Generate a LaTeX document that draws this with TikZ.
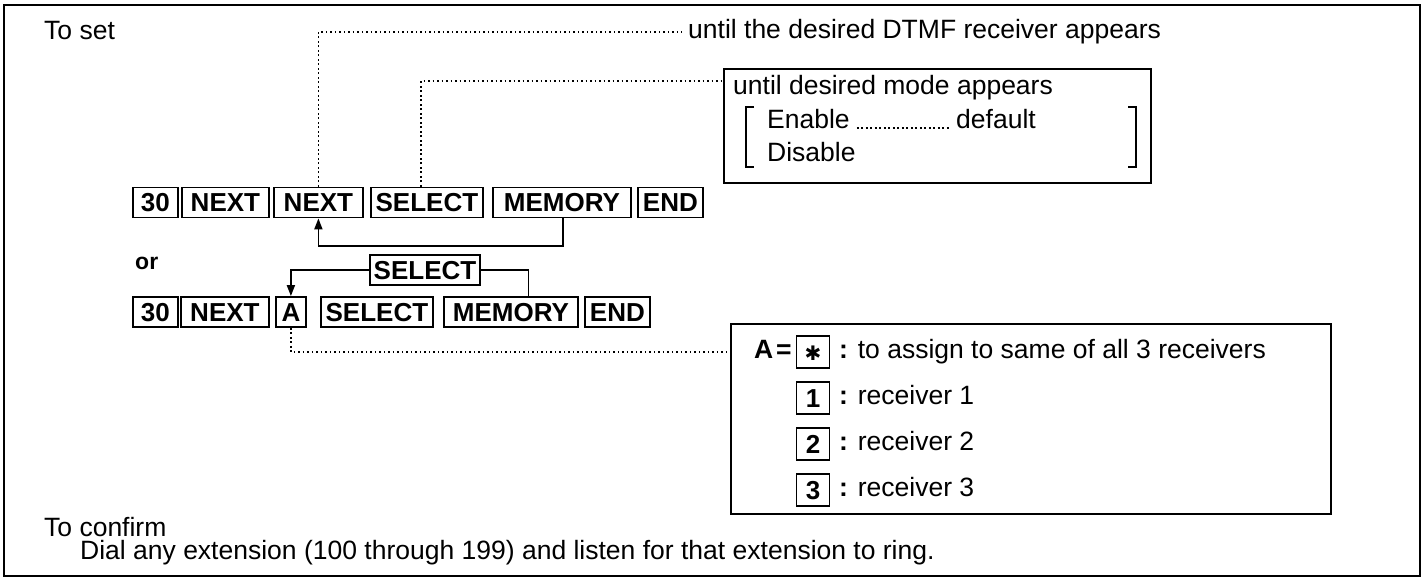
\documentclass[tikz,border=0pt]{standalone}
\usepackage{fontspec}
\setmainfont{Liberation Sans}
\newfontfamily\djvfont{DejaVu Sans}
\usetikzlibrary{calc,arrows.meta}
\begin{document}
\begin{tikzpicture}[x=1pt,y=-1pt,
  keybox/.style={draw,line width=1.8pt,font=\fontsize{26}{26}\selectfont\bfseries,minimum height=30pt,text height=18.5pt,text depth=0pt,inner xsep=2pt,inner ysep=0pt,anchor=west},
  txt/.style={font=\fontsize{26.5}{26.5}\selectfont,inner sep=0pt,anchor=west,text height=19pt,text depth=5.5pt},
  dots/.style={line width=1.6pt,dash pattern=on 1.6pt off 2.9pt},
  conn/.style={line width=1.8pt},
  tip/.style={-{Triangle[length=11pt,width=8pt]}},
  frame/.style={draw,line width=1.6pt,inner sep=0pt,anchor=north west}]
\useasboundingbox (0,0) rectangle (1425,580);
\draw[line width=2pt] (4,5) rectangle (1420,576);

% texts
\node[txt] (toset) at (44,33) {To set};
\node[txt] (dtmf) at (688,32) {until the desired DTMF receiver appears};

% mode box
\node[frame,minimum width=427pt,minimum height=114pt] (modebox) at (723,68) {};
\node[txt] (modet) at (733,88) {until desired mode appears};
\node[txt] (enable) at (767,122) {Enable};
\node[txt] (default) at (956,122) {default};
\node[txt] (disable) at (767,155) {Disable};
\draw[dots] ($(enable.east)+(7,6)$) -- ($(default.west)+(-6,6)$);
\draw[line width=1.5pt] (754,107) -- (746,107) -- (746,167) -- (754,167);
\draw[line width=1.5pt] (1128,107) -- (1136,107) -- (1136,167) -- (1128,167);

% row 1
\node[keybox,minimum width=45pt] (k1a) at (132,202.5) {30};
\node[keybox,minimum width=87pt] (k1b) at (181,202.5) {NEXT};
\node[keybox,minimum width=89pt] (k1c) at (273,202.5) {NEXT};
\node[keybox,minimum width=112pt] (k1d) at (370,202.5) {SELECT};
\node[keybox,minimum width=138pt] (k1e) at (492,202.5) {MEMORY};
\node[keybox,minimum width=65pt] (k1f) at (637,202.5) {END};

\coordinate (d1) at ($(k1c.north west)!0.5!(k1c.north east)$);
\coordinate (d2) at ($(k1d.north west)!0.45!(k1d.north east)$);
\draw[dots] (d1) |- ($(dtmf.west)+(-6,0)$);
\draw[dots] (d2) |- ($(modebox.north west)+(0,13)$);

\coordinate (a1) at ($(k1e.south west)!0.51!(k1e.south east)$);
\coordinate (a1t) at ($(k1c.south west)!0.5!(k1c.south east)$);
\draw[conn,tip] (a1) -- ++(0,27.5) -| (a1t);

% or
\node[txt,font=\fontsize{23}{23}\selectfont\bfseries] (or) at (135,263) {or};

% row 2
\node[keybox,minimum width=45pt] (k2a) at (132,312) {30};
\node[keybox,minimum width=88pt] (k2b) at (180,312) {NEXT};
\node[keybox,minimum width=30pt] (k2c) at (275,312) {A};
\node[keybox,minimum width=112pt] (k2d) at (320,312) {SELECT};
\node[keybox,minimum width=134pt] (k2e) at (443,312) {MEMORY};
\node[keybox,minimum width=65pt] (k2f) at (584,312) {END};

\node[keybox,anchor=center,minimum width=110pt] (ksel) at (425,270) {SELECT};
\draw[conn,tip] (ksel.west) -| (k2c.north);
\coordinate (m2) at ($(k2e.north west)!0.63!(k2e.north east)$);
\draw[conn] (ksel.east) -| (m2);

% A box
\node[frame,minimum width=600pt,minimum height=190pt] (abox) at (730,323) {};
\node[txt,font=\fontsize{26.5}{26.5}\selectfont\bfseries] (aA) at (754,352) {A};
\node[txt,font=\fontsize{26.5}{26.5}\selectfont\bfseries] (aeq) at (776,352) {=};
\node[keybox,anchor=center,minimum width=33pt,minimum height=32pt] (kstar) at (813,352) {\raisebox{1pt}{\djvfont\fontsize{20}{20}\selectfont ✱}};
\node[keybox,anchor=center,minimum width=33pt,minimum height=32pt] (kone) at (813,398) {1};
\node[keybox,anchor=center,minimum width=33pt,minimum height=32pt] (ktwo) at (813,444) {2};
\node[keybox,anchor=center,minimum width=33pt,minimum height=32pt] (kthree) at (813,490) {3};
\node[txt] (tstar) at (839,352) {\textbf{:} to assign to same of all 3 receivers};
\node[txt] (tone) at (839,398) {\textbf{:} receiver 1};
\node[txt] (ttwo) at (839,444) {\textbf{:} receiver 2};
\node[txt] (tthree) at (839,490) {\textbf{:} receiver 3};
\draw[dots] (k2c.south) |- (abox.west |- aA.west);

% confirm
\node[txt] (conf) at (44,530) {To confirm};
\node[txt] (dial) at (80,553) {Dial any extension (100 through 199) and listen for that extension to ring.};
\end{tikzpicture}
\end{document}
